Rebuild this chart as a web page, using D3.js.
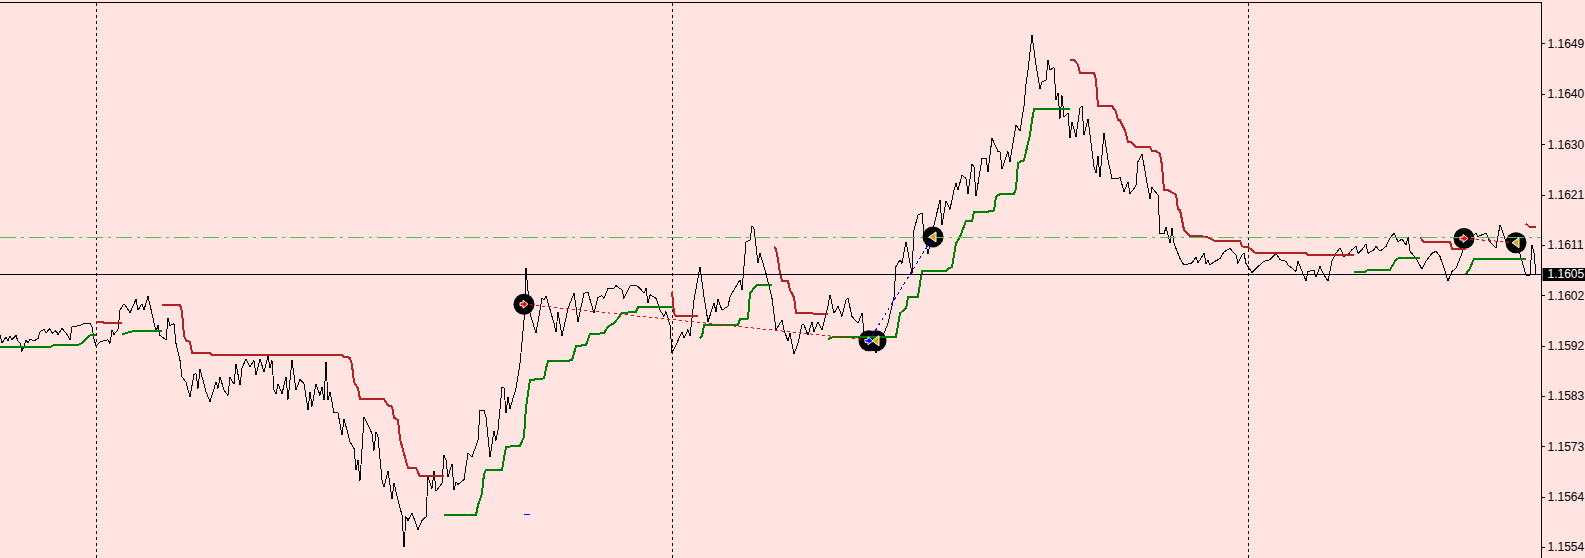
<!DOCTYPE html>
<html><head><meta charset="utf-8">
<script src="https://cdnjs.cloudflare.com/ajax/libs/d3/7.8.5/d3.min.js"></script>
<style>html,body{margin:0;padding:0;background:#ffe4e1;overflow:hidden}svg{display:block}</style>
</head><body><div id="chart"></div>
<script>
const closeBars=[0,1,3,4,5,6,8,9,10,11,13,14,15,17,19,20,22,23,25,26,28,29,31,33,35,36,40,42,45,46,47,48,50,54,55,56,57,59,60,62,63,65,68,69,71,72,74,76,78,79,80,83,84,85,87,88,90,91,93,95,97,98,99,100,102,103,105,108,109,110,112,114,115,117,118,120,121,123,125,127,128,130,132,134,135,136,137,138,139,141,143,144,146,148,150,152,154,155,156,158,160,161,162,163,164,165,167,169,171,172,175,177,178,179,180,182,184,186,187,188,189,191,192,194,196,197,199,201,202,203,204,206,209,211,213,214,216,217,218,221,222,223,224,226,227,228,229,232,234,236,239,240,242,243,245,247,248,249,251,252,253,254,255,256,258,260,262,263,265,268,271,272,273,277,278,279,281,284,287,289,292,294,297,299,301,302,304,307,308,311,312,315,318,320,322,323,324,325,328,330,332,333,335,336,338,341,342,344,345,347,350,352,354,357,358,359,361,364,365,367,370,371,373,375,376,377,379,380,382,383,386,388,391,392,394,395,397,399,401,402,404,406,407,409,411,414,415,417,419,421,423,424,426,429,431,432,436,438,440,442,444,447,448,450,451,453,456,457,459,461,462,464,466,468,470,471,473,475,477,478,479,481,483,484,486,487,488,491,493,494,496,499,500,501,504,505,508,510,512,513,514,516,518,520,521,523,524,525,527,528,529,530,531,532,534,535,536,538,540,541,542,544,545,547,548,549,550,552,554,556,559,560,562,564,565,567,568,569,571,573,575,576,579,580,582,583,585,586,587,590,592,596,598,599,602,603,604,605,607,610,612,615,618,619,621,622,623,626,629,632,635,638,640,643,644,648,649,651,653,654,657,658,660,662,664,666,668,670,672,674,676,678,679,681,683,684,687,688,690,693,695,697,699,701,703,704,705,708,711,713,716,718,720,722,724,726,728,731,733,736,738,739,741,743,745,748,750,751,753,757,759,761,763,765,766,767,768];
const closePrices=[1.15943,1.15929,1.15940,1.15933,1.15942,1.15935,1.15943,1.15932,1.15929,1.15913,1.15934,1.15929,1.15936,1.15933,1.15937,1.15950,1.15955,1.15948,1.15956,1.15947,1.15952,1.15945,1.15956,1.15948,1.15935,1.15959,1.15962,1.15966,1.15966,1.15959,1.15937,1.15923,1.15931,1.15935,1.15928,1.15953,1.15945,1.15954,1.15991,1.16003,1.15998,1.15986,1.16011,1.15991,1.16003,1.15991,1.16017,1.15984,1.15950,1.15962,1.15943,1.15935,1.15976,1.15962,1.15965,1.15928,1.15896,1.15865,1.15855,1.15827,1.15870,1.15871,1.15843,1.15879,1.15852,1.15837,1.15818,1.15855,1.15843,1.15865,1.15840,1.15830,1.15864,1.15851,1.15890,1.15849,1.15881,1.15899,1.15884,1.15896,1.15868,1.15899,1.15874,1.15904,1.15882,1.15896,1.15840,1.15833,1.15852,1.15833,1.15865,1.15822,1.15897,1.15840,1.15860,1.15852,1.15803,1.15837,1.15809,1.15852,1.15830,1.15846,1.15821,1.15893,1.15821,1.15837,1.15797,1.15797,1.15755,1.15786,1.15742,1.15730,1.15689,1.15708,1.15669,1.15789,1.15774,1.15758,1.15726,1.15761,1.15752,1.15670,1.15657,1.15687,1.15635,1.15665,1.15632,1.15604,1.15544,1.15601,1.15594,1.15608,1.15577,1.15594,1.15601,1.15676,1.15654,1.15687,1.15649,1.15664,1.15717,1.15708,1.15676,1.15701,1.15652,1.15667,1.15662,1.15671,1.15721,1.15714,1.15745,1.15802,1.15802,1.15789,1.15713,1.15763,1.15745,1.15764,1.15845,1.15845,1.15796,1.15827,1.15805,1.15818,1.15843,1.15890,1.15972,1.16070,1.15985,1.15947,1.16013,1.16010,1.16018,1.15966,1.15950,1.15988,1.15942,1.15994,1.16023,1.15969,1.16023,1.16024,1.15985,1.16015,1.16018,1.16013,1.16032,1.16032,1.16037,1.16029,1.16013,1.16037,1.16038,1.16032,1.16023,1.16032,1.16004,1.16020,1.16013,1.15991,1.15979,1.15988,1.15963,1.15911,1.15925,1.15950,1.15938,1.15954,1.15942,1.16010,1.16073,1.16016,1.15969,1.16004,1.15988,1.16011,1.15991,1.15998,1.16016,1.16029,1.16048,1.16029,1.16120,1.16123,1.16150,1.16145,1.16079,1.16098,1.16073,1.16060,1.16013,1.15954,1.15972,1.15954,1.15932,1.15947,1.15908,1.15928,1.15963,1.15963,1.15944,1.15969,1.15950,1.15969,1.15954,1.15998,1.16020,1.15985,1.15998,1.15979,1.16010,1.16013,1.15979,1.15966,1.15985,1.15947,1.15938,1.15910,1.15938,1.15947,1.15966,1.16016,1.16073,1.16086,1.16079,1.16120,1.16060,1.16142,1.16170,1.16174,1.16135,1.16096,1.16135,1.16167,1.16198,1.16151,1.16197,1.16181,1.16217,1.16230,1.16217,1.16246,1.16239,1.16210,1.16266,1.16261,1.16206,1.16277,1.16277,1.16252,1.16315,1.16290,1.16290,1.16258,1.16290,1.16271,1.16340,1.16329,1.16376,1.16418,1.16444,1.16510,1.16453,1.16409,1.16422,1.16424,1.16463,1.16444,1.16449,1.16387,1.16401,1.16352,1.16396,1.16356,1.16362,1.16315,1.16346,1.16318,1.16373,1.16376,1.16321,1.16352,1.16321,1.16261,1.16249,1.16281,1.16242,1.16325,1.16274,1.16239,1.16239,1.16242,1.16214,1.16233,1.16211,1.16220,1.16227,1.16271,1.16286,1.16242,1.16201,1.16222,1.16208,1.16135,1.16135,1.16147,1.16117,1.16145,1.16117,1.16088,1.16076,1.16080,1.16091,1.16080,1.16098,1.16079,1.16085,1.16076,1.16082,1.16088,1.16101,1.16107,1.16095,1.16079,1.16095,1.16098,1.16079,1.16062,1.16073,1.16083,1.16086,1.16098,1.16086,1.16083,1.16076,1.16064,1.16083,1.16064,1.16046,1.16064,1.16066,1.16053,1.16073,1.16057,1.16046,1.16083,1.16098,1.16108,1.16092,1.16095,1.16105,1.16111,1.16098,1.16105,1.16116,1.16098,1.16105,1.16111,1.16102,1.16111,1.16127,1.16136,1.16120,1.16125,1.16114,1.16129,1.16102,1.16089,1.16068,1.16083,1.16098,1.16102,1.16092,1.16070,1.16046,1.16064,1.16070,1.16098,1.16120,1.16130,1.16136,1.16130,1.16133,1.16136,1.16120,1.16108,1.16152,1.16142,1.16120,1.16117,1.16111,1.16083,1.16057,1.16057,1.16114,1.16098,1.16057];

const redBars=[48,51,52,61,null,81,90,91,92,93,95,96,105,106,171,172,175,176,177,179,180,192,194,196,197,199,200,202,204,208,210,222,null,336,337,338,349,null,387,388,389,390,391,394,395,397,398,414,null,535,537,539,540,547,548,549,556,558,559,560,562,563,564,566,568,575,576,578,580,581,582,584,588,589,590,592,595,601,604,607,620,621,624,628,653,654,677,null,710,712,725,726,733,null,763,765,768];
const redPrices=[1.15969,1.15969,1.15967,1.15967,null,1.16001,1.16001,1.15988,1.15943,1.15934,1.15931,1.15910,1.15910,1.15906,1.15906,1.15903,1.15901,1.15887,1.15855,1.15843,1.15823,1.15823,1.15811,1.15809,1.15788,1.15783,1.15748,1.15720,1.15693,1.15693,1.15677,1.15677,null,1.16026,1.15985,1.15979,1.15979,null,1.16111,1.16106,1.16086,1.16060,1.16046,1.16045,1.16029,1.16015,1.15985,1.15984,null,1.16463,1.16463,1.16454,1.16439,1.16439,1.16425,1.16376,1.16376,1.16365,1.16350,1.16349,1.16334,1.16324,1.16308,1.16307,1.16299,1.16299,1.16291,1.16291,1.16286,1.16264,1.16218,1.16217,1.16209,1.16181,1.16180,1.16142,1.16130,1.16130,1.16128,1.16122,1.16122,1.16111,1.16110,1.16098,1.16098,1.16095,1.16095,null,1.16128,1.16120,1.16120,1.16106,1.16106,null,1.16154,1.16147,1.16147];

const greenBars=[0,25,27,39,41,44,45,48,null,61,65,69,81,null,222,238,239,241,242,243,251,253,260,262,263,265,272,273,274,286,288,293,295,302,304,307,311,318,319,336,null,350,351,352,369,370,374,375,378,379,386,null,414,417,448,450,453,454,459,460,461,473,474,476,477,478,480,482,483,486,487,493,497,498,500,507,508,509,510,512,513,515,516,517,535,null,677,682,684,695,698,700,710,null,733,735,737,763];
const greenPrices=[1.15921,1.15921,1.15925,1.15925,1.15929,1.15940,1.15943,1.15943,null,1.15945,1.15950,1.15952,1.15952,null,1.15604,1.15604,1.15623,1.15645,1.15682,1.15689,1.15689,1.15733,1.15735,1.15752,1.15808,1.15859,1.15862,1.15881,1.15894,1.15896,1.15923,1.15925,1.15946,1.15947,1.15960,1.15966,1.15985,1.15988,1.15996,1.15996,null,1.15938,1.15941,1.15963,1.15963,1.15974,1.15975,1.16023,1.16037,1.16038,1.16038,null,1.15936,1.15941,1.15941,1.15985,1.15994,1.16015,1.16016,1.16041,1.16064,1.16065,1.16069,1.16072,1.16095,1.16117,1.16129,1.16149,1.16159,1.16159,1.16176,1.16176,1.16179,1.16205,1.16210,1.16210,1.16220,1.16268,1.16271,1.16273,1.16290,1.16321,1.16349,1.16370,1.16370,null,1.16062,1.16062,1.16067,1.16067,1.16086,1.16090,1.16090,null,1.16059,1.16070,1.16088,1.16088];

const dayBars=[48,336,624];
const tickPrices=[1.16494,1.16399,1.16304,1.16209,1.16114,1.16019,1.15924,1.15829,1.15734,1.15639,1.15544];
const tickLabels=["1.1649","1.1640","1.1630","1.1621","1.1611","1.1602","1.1592","1.1583","1.1573","1.1564","1.1554"];
const bidPrice=1.16058, bidLabel="1.1605";
const levelPrice=1.16128;

const markerKinds=["sell","buy","exit","exit","sell","exit"];
const markerBars=[262,434.5,438,466.5,732,758];
const markerPrices=[1.16002,1.15933,1.15933,1.16129,1.16126,1.16118];
const tradeColors=["#ff0000","#0000ff","#ff0000"];
const tradeStartBars=[262,434.5,732];
const tradeStartPrices=[1.16002,1.15933,1.16126];
const tradeEndBars=[438,466.5,758];
const tradeEndPrices=[1.15933,1.16129,1.16118];
const dashBars=[262,265];
const dashPrice=1.15605;

const W=1585,H=558,plotR=1541.5;
const x=d3.scaleLinear().domain([0,768]).range([0,1536]);
const y=d3.scaleLinear().domain([1.16576,1.15576]).range([0,530]);
const svg=d3.select("#chart").append("svg").attr("width",W).attr("height",H);
svg.append("rect").attr("width",W).attr("height",H).attr("fill","#ffe4e1");

const crisp=s=>s.attr("shape-rendering","crispEdges");
const zip=(a,b)=>a.map((d,i)=>({bar:d,price:b[i]}));
const line=d3.line().defined(d=>d.bar!==null).x(d=>x(d.bar)).y(d=>y(d.price));
const rowY=p=>Math.floor(y(p))+.5;

crisp(svg.selectAll(".day").data(dayBars).join("line").attr("class","day")
  .attr("x1",d=>Math.round(x(d))+.5).attr("x2",d=>Math.round(x(d))+.5).attr("y1",3).attr("y2",H)
  .attr("stroke","#000").attr("stroke-dasharray","3,3"));

svg.selectAll(".disc").data(zip(markerBars,markerPrices)).join("circle").attr("class","disc")
  .attr("cx",d=>x(d.bar)).attr("cy",d=>y(d.price)).attr("r",10.5).attr("fill","#000");

crisp(svg.append("path").attr("d",line(zip(closeBars,closePrices))).attr("fill","none").attr("stroke","#000").attr("stroke-width",1));
crisp(svg.append("path").attr("d",line(zip(redBars,redPrices))).attr("fill","none").attr("stroke","#b22222").attr("stroke-width",2));
crisp(svg.append("path").attr("d",line(zip(greenBars,greenPrices))).attr("fill","none").attr("stroke","#008000").attr("stroke-width",2));

crisp(svg.selectAll(".trade").data(tradeColors).join("line").attr("class","trade")
  .attr("x1",(d,i)=>x(tradeStartBars[i])).attr("y1",(d,i)=>y(tradeStartPrices[i]))
  .attr("x2",(d,i)=>x(tradeEndBars[i])).attr("y2",(d,i)=>y(tradeEndPrices[i]))
  .attr("stroke",d=>d).attr("stroke-dasharray","3,3"));

crisp(svg.append("line").attr("x1",x(dashBars[0])).attr("x2",x(dashBars[1])).attr("y1",rowY(dashPrice)).attr("y2",rowY(dashPrice)).attr("stroke","#0000ff"));

crisp(svg.append("line").attr("x1",0).attr("x2",plotR).attr("y1",rowY(levelPrice)).attr("y2",rowY(levelPrice))
  .attr("stroke","#4cc44c").attr("stroke-dasharray","16,5,3,5"));
crisp(svg.append("line").attr("x1",0).attr("x2",plotR).attr("y1",rowY(bidPrice)).attr("y2",rowY(bidPrice)).attr("stroke","#000"));

const arrow="M-4,-1.5L-1,-1.5L-1,-4L4,0L-1,4L-1,1.5L-4,1.5Z";
const tri="M-4,0L3,-5L3,5Z";
const markerColor={sell:"#ff0000",buy:"#0000ff",exit:"#daa520"};
svg.selectAll(".sym").data(zip(markerBars,markerPrices).map((d,i)=>({...d,kind:markerKinds[i]}))).join("path").attr("class","sym")
  .attr("transform",d=>`translate(${x(d.bar)},${y(d.price)})`)
  .attr("d",d=>d.kind==="exit"?tri:arrow)
  .attr("fill",d=>markerColor[d.kind]).attr("stroke","#fff").attr("stroke-width",1);

// frame
crisp(svg.append("path").attr("d",`M0,2.5H${plotR}V${H}`).attr("fill","none").attr("stroke","#000"));

// axis
const axis=d3.axisRight(y).tickValues(tickPrices).tickSize(3).tickPadding(3).tickFormat((d,i)=>tickLabels[i]);
const gAxis=svg.append("g").attr("transform",`translate(${plotR},0)`).call(axis);
gAxis.select(".domain").remove();
gAxis.selectAll("line").attr("stroke","#000").attr("shape-rendering","crispEdges");
gAxis.selectAll("text").attr("font-family","'Liberation Sans',Arial,sans-serif").attr("font-size",12).attr("fill","#000");

svg.append("rect").attr("x",plotR+1).attr("y",Math.floor(y(bidPrice))-6).attr("width",W-plotR).attr("height",13).attr("fill","#000");
svg.append("text").attr("x",plotR+6).attr("y",Math.floor(y(bidPrice))+.5).attr("dy","0.32em")
  .attr("font-family","'Liberation Sans',Arial,sans-serif").attr("font-size",12).attr("fill","#fff").text(bidLabel);
</script></body></html>
